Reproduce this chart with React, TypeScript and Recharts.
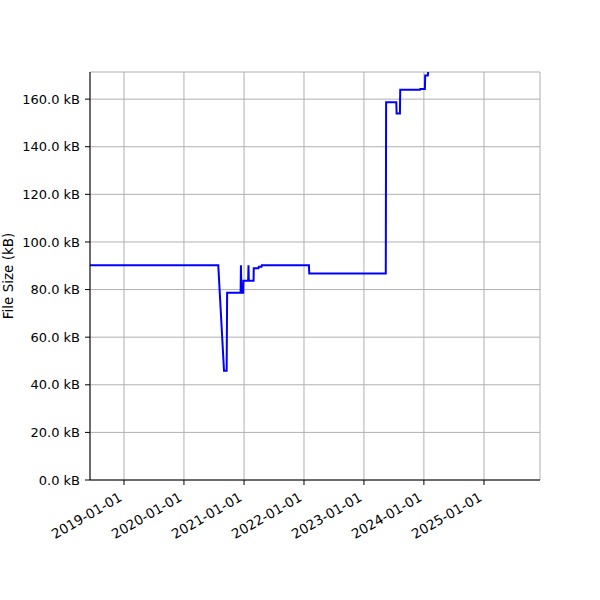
import React from "react";
import { LineChart, Line, XAxis, YAxis, CartesianGrid } from "recharts";

const dates = [
  "2018-06-08", "2020-07-28", "2020-09-01", "2020-09-17", "2020-09-20",
  "2020-12-11", "2020-12-13", "2020-12-16", "2020-12-27", "2020-12-28",
  "2021-01-26", "2021-01-28", "2021-01-30", "2021-02-28", "2021-03-01",
  "2021-03-30", "2021-04-01", "2021-04-17", "2021-04-19", "2022-01-31",
  "2022-02-02", "2023-05-14", "2023-05-16", "2023-07-17", "2023-07-19",
  "2023-08-08", "2023-08-10", "2023-12-08", "2023-12-10", "2024-01-07",
  "2024-01-09", "2024-01-25", "2024-01-27",
];
const sizesKB = [
  90.2, 90.2, 45.9, 45.9, 78.7,
  78.7, 90.2, 78.7, 78.7, 83.7,
  83.7, 90.2, 83.7, 83.7, 89.0,
  89.0, 89.6, 89.6, 90.2, 90.2,
  86.8, 86.8, 158.7, 158.7, 154.0,
  154.0, 163.9, 163.9, 164.3, 164.3,
  169.9, 169.9, 171.4,
];
const xTickLabels = ["2019-01-01", "2020-01-01", "2021-01-01", "2022-01-01", "2023-01-01", "2024-01-01", "2025-01-01"];
const yTicks = [0, 20, 40, 60, 80, 100, 120, 140, 160];
const xDomain = ["2018-06-08", "2025-12-08"];
const yMax = 171.4;

const data = dates.map((d, i) => ({ t: Date.parse(d + "T00:00:00Z"), v: sizesKB[i] }));
const xTicks = xTickLabels.map((d) => Date.parse(d + "T00:00:00Z"));
const xDom = xDomain.map((d) => Date.parse(d + "T00:00:00Z"));
const FONT = "DejaVu Sans";

const fmtDate = (t: number) => new Date(t).toISOString().slice(0, 10);

const XTick = (props: any) => {
  const { x, y, payload } = props;
  const ax = x - 1;
  const ay = y + 13;
  return (
    <text
      x={ax}
      y={ay}
      transform={`rotate(-30, ${ax}, ${ay})`}
      textAnchor="end"
      fontFamily={FONT}
      fontSize={13.5}
      fill="#000"
    >
      {fmtDate(payload.value)}
    </text>
  );
};

export default function App() {
  return (
    <div style={{ position: "absolute", left: 0, top: 0, width: 600, height: 600, background: "#fff" }}>
      <LineChart width={600} height={600} data={data} margin={{ top: 72, right: 60, left: 0, bottom: 0 }}>
        <CartesianGrid stroke="#b0b0b0" strokeWidth={1} />
        <XAxis
          dataKey="t"
          type="number"
          domain={xDom}
          allowDataOverflow
          ticks={xTicks}
          tick={<XTick />}
          tickLine={{ stroke: "#000" }}
          tickSize={5}
          axisLine={{ stroke: "#000" }}
          height={120}
          interval={0}
        />
        <XAxis xAxisId="top" orientation="top" dataKey="t" type="number" domain={xDom} allowDataOverflow tick={false} tickLine={false} axisLine={{ stroke: "#000" }} height={0} />
        <YAxis
          type="number"
          domain={[0, yMax]}
          allowDataOverflow
          ticks={yTicks}
          tickFormatter={(v: number) => `${v.toFixed(1)} kB`}
          tick={{ fontFamily: FONT, fontSize: 13, fill: "#000", dx: -3 }}
          tickLine={{ stroke: "#000" }}
          tickSize={5}
          axisLine={{ stroke: "#000" }}
          width={90}
          interval={0}
          label={{ value: "File Size (kB)", angle: -90, position: "insideLeft", offset: 0, dx: 8, style: { fontFamily: FONT, fontSize: 13.5, fill: "#000", textAnchor: "middle" } }}
        />
        <YAxis yAxisId="right" orientation="right" domain={[0, yMax]} tick={false} tickLine={false} axisLine={{ stroke: "#000" }} width={0} />
        <Line type="linear" dataKey="v" stroke="#0000ff" strokeWidth={2} dot={false} isAnimationActive={false} />
      </LineChart>
    </div>
  );
}
